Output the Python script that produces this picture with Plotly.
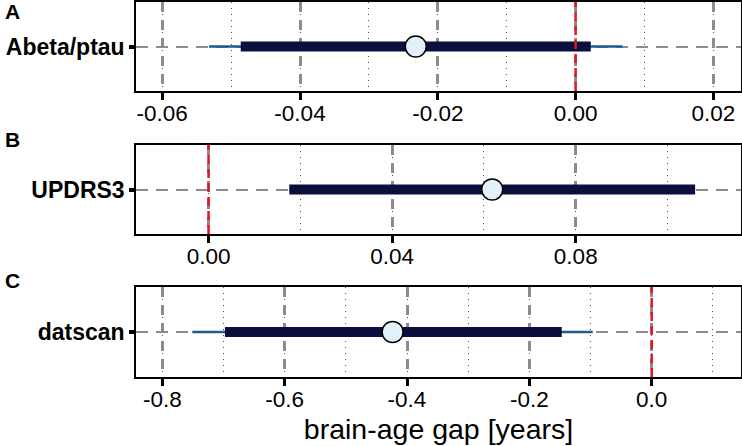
import plotly.graph_objects as go

# Posterior summaries per outcome
labels = ["Abeta/ptau", "UPDRS3", "datscan"]
panel_letters = ["A", "B", "C"]
point_est = [-0.0232, 0.0618, -0.4235]
inner_lo = [-0.0486, 0.0176, -0.6976]
inner_hi = [0.0022, 0.1060, -0.147]
outer_lo = [-0.0532, 0.0176, -0.751]
outer_hi = [0.0068, 0.1060, -0.0964]
ref_value = 0.0

# x tick values / labels per panel (plain hyphen minus as in the original)
tick_vals = [[-0.06, -0.04, -0.02, 0.0, 0.02],
             [0.0, 0.04, 0.08],
             [-0.8, -0.6, -0.4, -0.2, 0.0]]
tick_text = [["-0.06", "-0.04", "-0.02", "0.00", "0.02"],
             ["0.00", "0.04", "0.08"],
             ["-0.8", "-0.6", "-0.4", "-0.2", "0.0"]]

# axis settings per panel
x_ranges = [[-0.0638, 0.024], [-0.0158, 0.116], [-0.843, 0.146]]
minor_dtick = [0.01, 0.02, 0.1]

W, H = 742, 446
font_family = "Liberation Sans, Arial, Helvetica, sans-serif"
y_domains = [[1 - 91 / H, 1 - 2 / H], [1 - 234 / H, 1 - 145 / H], [1 - 377 / H, 1 - 287 / H]]
letter_y = [12, 139, 280]
x_domain = [136 / W, 741 / W]

fig = go.Figure()
layout = dict(
    width=W, height=H,
    margin=dict(l=0, r=0, t=0, b=0),
    paper_bgcolor="white", plot_bgcolor="white",
    showlegend=False,
    font=dict(family=font_family, color="black"),
)

for i, lab in enumerate(labels):
    n = "" if i == 0 else str(i + 1)
    xa, ya = "x" + n, "y" + n

    # outer (thin) interval
    fig.add_trace(go.Scatter(x=[outer_lo[i], outer_hi[i]], y=[lab, lab], mode="lines",
                             line=dict(color="#1f5c8c", width=2.5), xaxis=xa, yaxis=ya,
                             hoverinfo="skip"))
    # inner (thick) interval
    fig.add_trace(go.Scatter(x=[inner_lo[i], inner_hi[i]], y=[lab, lab], mode="lines",
                             line=dict(color="#0a0f3d", width=10), xaxis=xa, yaxis=ya,
                             hoverinfo="skip"))
    # point estimate
    fig.add_trace(go.Scatter(x=[point_est[i]], y=[lab], mode="markers",
                             marker=dict(size=21, color="#e2f0fa", line=dict(color="black", width=1.5)),
                             xaxis=xa, yaxis=ya))

    layout["xaxis" + n] = dict(
        domain=x_domain, anchor=ya, range=x_ranges[i],
        tickmode="array", tickvals=tick_vals[i], ticktext=tick_text[i],
        showgrid=True, gridcolor="#8c8c8c", gridwidth=2.5, griddash="10px,8px",
        minor=dict(dtick=minor_dtick[i], tick0=0, showgrid=True, gridcolor="#555555",
                   gridwidth=1, griddash="1px,5px", ticks=""),
        showline=True, mirror=True, linecolor="black", linewidth=1.5,
        ticks="outside", ticklen=7, tickwidth=2.5, tickcolor="black",
        ticklabelstandoff=-6,
        tickfont=dict(size=22.5, family=font_family), zeroline=False, automargin=False,
    )
    layout["yaxis" + n] = dict(
        domain=y_domains[i], anchor=xa, type="category", range=[-0.5, 0.5],
        showgrid=True, gridcolor="#8c8c8c", gridwidth=2, griddash="12px,8px",
        showline=True, mirror=True, linecolor="black", linewidth=1.5,
        ticks="outside", ticklen=5, tickwidth=4, tickcolor="black",
        tickfont=dict(size=23, family=font_family, weight="bold"),
        zeroline=False, automargin=False,
    )

    # reference line at zero
    fig.add_shape(type="line", xref=xa, yref=ya + " domain", x0=ref_value, x1=ref_value,
                  y0=0, y1=1, line=dict(color="#e8141c", width=2.5, dash="9px,5px"),
                  layer="above")

    fig.add_annotation(text="<b>%s</b>" % panel_letters[i], xref="paper", yref="paper",
                       x=3 / W, y=1 - letter_y[i] / H, xanchor="left", yanchor="middle",
                       showarrow=False, font=dict(size=21, family=font_family))

layout["xaxis3"]["title"] = dict(text="brain-age gap [years]", font=dict(size=28.5, family=font_family),
                                 standoff=8)

fig.update_layout(**layout)
fig.write_html("out.html", config={"displayModeBar": False},
               post_script="document.body.style.margin='0px';")
